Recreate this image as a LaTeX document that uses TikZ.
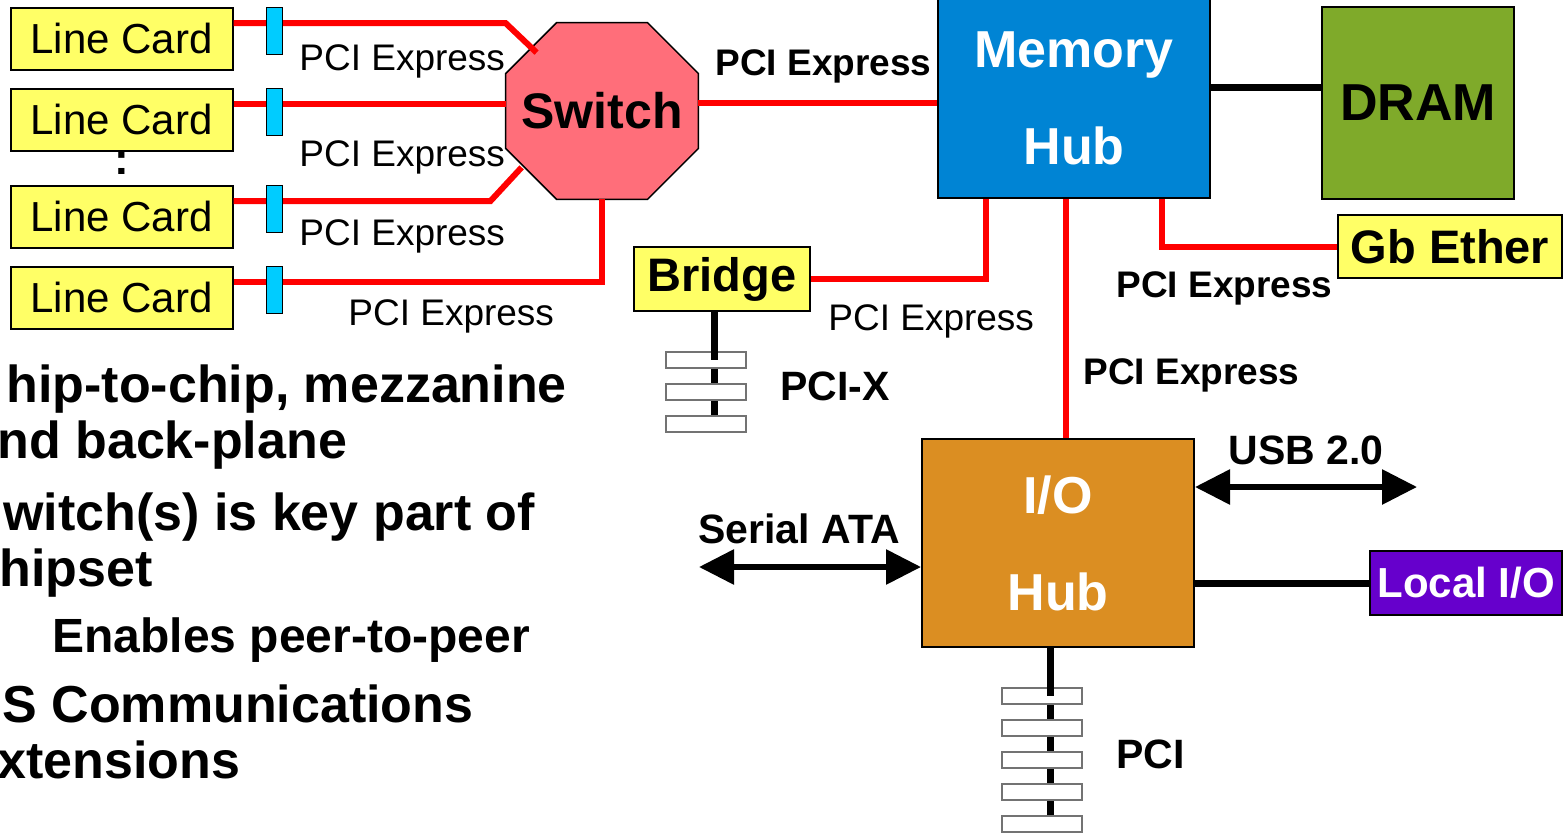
\documentclass[tikz,border=0pt]{standalone}
\usepackage{fontspec}
\setmainfont{Liberation Sans}
\usetikzlibrary{arrows.meta, positioning}
\pgfdeclarelayer{background}
\pgfsetlayers{background,main}

\definecolor{cardyellow}{HTML}{FFFF66}
\definecolor{plugcyan}{HTML}{00CCFF}
\definecolor{switchpink}{HTML}{FF6E7A}
\definecolor{hubblue}{HTML}{0084D4}
\definecolor{dramgreen}{HTML}{7FAA2A}
\definecolor{huborange}{HTML}{DB8E22}
\definecolor{localpurple}{HTML}{6600CC}

\tikzstyle{card} = [
    rectangle,
    fill=cardyellow,
    draw=black,
    line width=1pt,
    minimum width=111pt,
    minimum height=31pt,
    inner sep=0pt,
    font=\fontsize{21}{25}\selectfont
]
\tikzstyle{plug} = [
    rectangle,
    fill=plugcyan,
    draw=black,
    line width=0.5pt,
    minimum width=8pt,
    minimum height=23.5pt,
    inner sep=0pt
]
\tikzstyle{hub} = [
    rectangle,
    draw=black,
    line width=1pt,
    text=white,
    align=center,
    inner sep=0pt,
    font=\bfseries\fontsize{26}{48.5}\selectfont
]
\tikzstyle{chip} = [
    rectangle,
    draw=black,
    line width=1pt,
    inner sep=0pt,
    font=\bfseries\fontsize{23.5}{28}\selectfont
]
\tikzstyle{slot} = [
    rectangle,
    fill=white,
    draw=black!55,
    line width=0.75pt,
    minimum width=40pt,
    minimum height=8pt,
    inner sep=0pt
]
\tikzstyle{pcie} = [draw=red, line width=3pt]
\tikzstyle{link} = [draw=black, line width=3.5pt]
\tikzstyle{bus} = [line width=3pt, <->, >={Triangle[length=17.5pt, width=17pt]}]
\tikzstyle{lbl} = [anchor=base west, inner sep=0pt, font=\fontsize{18.5}{22}\selectfont]
\tikzstyle{blbl} = [anchor=base west, inner sep=0pt, font=\bfseries\fontsize{18.5}{22}\selectfont]
\tikzstyle{tag} = [anchor=base west, inner sep=0pt, font=\bfseries\fontsize{20.5}{24}\selectfont]
\tikzstyle{note} = [anchor=base west, inner sep=0pt, font=\bfseries\fontsize{26}{31}\selectfont]

\begin{document}
\begin{tikzpicture}[x=0.5pt, y=-0.5pt]

\useasboundingbox (0,0) rectangle (1566,835);
\clip (0,0) rectangle (1566,835);

% line cards
\node (card1) [card] at (121.5,38.5) {Line Card};
\node (card2) [card, below=8.5pt of card1] {Line Card};
\node (dots) [inner sep=0pt, font=\bfseries\fontsize{22}{26}\selectfont] at (122,163) {:};
\node (card3) [card, below=16.5pt of card2] {Line Card};
\node (card4) [card, below=8.5pt of card3] {Line Card};

% switch (octagon drawn behind its text)
\node (switch) [rectangle, minimum width=96pt, minimum height=88pt, inner sep=0pt,
    font=\bfseries\fontsize{25}{30}\selectfont] at (602,111) {Switch};
\begin{pgfonlayer}{background}
\draw [fill=switchpink, line width=0.75pt]
    ([xshift=25.5pt]switch.north west) -- ([xshift=-25.5pt]switch.north east)
    -- ([yshift=-25.5pt]switch.north east) -- ([yshift=25.5pt]switch.south east)
    -- ([xshift=-25.5pt]switch.south east) -- ([xshift=25.5pt]switch.south west)
    -- ([yshift=25.5pt]switch.south west) -- ([yshift=-25.5pt]switch.north west)
    -- cycle;
\end{pgfonlayer}

% hubs and devices
\node (memhub) [hub, fill=hubblue, minimum width=136pt, minimum height=100pt]
    at (1074,98) {Memory\\Hub};

\node (dram) [chip, fill=dramgreen, minimum width=96pt, minimum height=96pt,
    font=\bfseries\fontsize{26}{31}\selectfont] at (1418,103) {DRAM};

\node (gbe) [chip, fill=cardyellow, minimum width=112pt, minimum height=31.5pt]
    at (1450,246.5) {Gb Ether};

\node (bridge) [chip, fill=cardyellow, minimum width=88pt, minimum height=32pt]
    at (722,279) {Bridge};

\node (iohub) [hub, fill=huborange, minimum width=136pt, minimum height=104pt]
    at (1058,543) {I/O\\Hub};

\node (localio) [chip, fill=localpurple, text=white, minimum width=96pt,
    minimum height=32pt, font=\bfseries\fontsize{21}{25}\selectfont]
    at (1466,583) {Local I/O};

% PCI Express links
\draw [pcie] ([yshift=7.75pt]card1.east) -- ++(136pt,0) -- ([shift={(15.5pt,-15pt)}]switch.north west);
\draw [pcie] ([yshift=7.75pt]card2.east) -- ([yshift=7.75pt]card2.east -| switch.west);
\draw [pcie] ([yshift=7.75pt]card3.east) -- ++(128.5pt,0) -- ([shift={(8pt,16pt)}]switch.south west);
\draw [pcie] ([yshift=8pt]card4.east) -| (switch.south);

\draw [pcie] ([yshift=4pt]switch.east) -- ([yshift=4pt]switch.east -| memhub.west);
\draw [pcie] ([xshift=44pt]memhub.south) |- (gbe.west);
\draw [pcie] ([xshift=-4pt]memhub.south) -- ([xshift=-4pt]memhub.south |- iohub.north);
\draw [pcie] ([xshift=-44pt]memhub.south) |- (bridge.east);

\draw [link] ([yshift=5.5pt]memhub.east) -- ([yshift=5.5pt]memhub.east -| dram.west);
\draw [link] (iohub.east |- localio.west) -- (localio.west);

% connectors on the line cards
\node (plug1) [plug, right=16pt of card1.north east, anchor=north west] {};
\node (plug2) [plug, right=16pt of card2.north east, anchor=north west] {};
\node (plug3) [plug, right=16pt of card3.north east, anchor=north west] {};
\node (plug4) [plug, right=16pt of card4.north east, anchor=north west] {};

% external buses
\coordinate (sataend) at (699,567);
\coordinate (usbend) at (1417,487);
\draw [bus] (sataend) -- (sataend -| iohub.west);
\draw [bus] ([yshift=28pt]iohub.east) -- (usbend);

% PCI-X slots
\draw [link] ([xshift=-4pt]bridge.south) -- ([xshift=-4pt]bridge.south |- 706,424);
\node (xslot1) [slot] at (706,360) {};
\node (xslot2) [slot] at (706,392) {};
\node (xslot3) [slot] at (706,424) {};
\draw [link] ([xshift=-4pt]bridge.south) -- ([xshift=-4pt]bridge.south |- xslot1.center);

% PCI slots
\draw [link] ([xshift=-4pt]iohub.south) -- ([xshift=-4pt]iohub.south |- 1042,824);
\node (pslot1) [slot] at (1042,696) {};
\node (pslot2) [slot] at (1042,728) {};
\node (pslot3) [slot] at (1042,760) {};
\node (pslot4) [slot] at (1042,792) {};
\node (pslot5) [slot] at (1042,824) {};
\draw [link] ([xshift=-4pt]iohub.south) -- ([xshift=-4pt]iohub.south |- pslot1.center);

% link labels
\node (lbl1) [lbl] at (299,70) {PCI Express};
\node (lbl2) [lbl] at (299,166) {PCI Express};
\node (lbl3) [lbl] at (299,245) {PCI Express};
\node (lbl4) [lbl] at (348,325) {PCI Express};
\node (lbl5) [blbl] at (715,75) {PCI Express};
\node (lbl6) [lbl] at (828,330) {PCI Express};
\node (lbl7) [blbl] at (1116,297) {PCI Express};
\node (lbl8) [blbl] at (1083,384) {PCI Express};
\node (pcixlbl) [tag] at (780,400) {PCI-X};
\node (pcilbl) [tag] at (1116,768) {PCI};
\node (usblbl) [tag] at (1228,464) {USB 2.0};
\node (satalbl) [tag] at (698,543) {Serial ATA};

% slide text
\node (note1) [note] at (6,402) {hip-to-chip, mezzanine};
\node (note2) [note] at (-3,458) {nd back-plane};
\node (note3) [note] at (3,530) {witch(s) is key part of};
\node (note4) [note] at (-1,586) {hipset};
\node (note5) [note, font=\bfseries\fontsize{24}{29}\selectfont] at (52,652) {Enables peer-to-peer};
\node (note6) [note] at (2,722) {S Communications};
\node (note7) [note] at (-3,778) {xtensions};

\end{tikzpicture}
\end{document}
